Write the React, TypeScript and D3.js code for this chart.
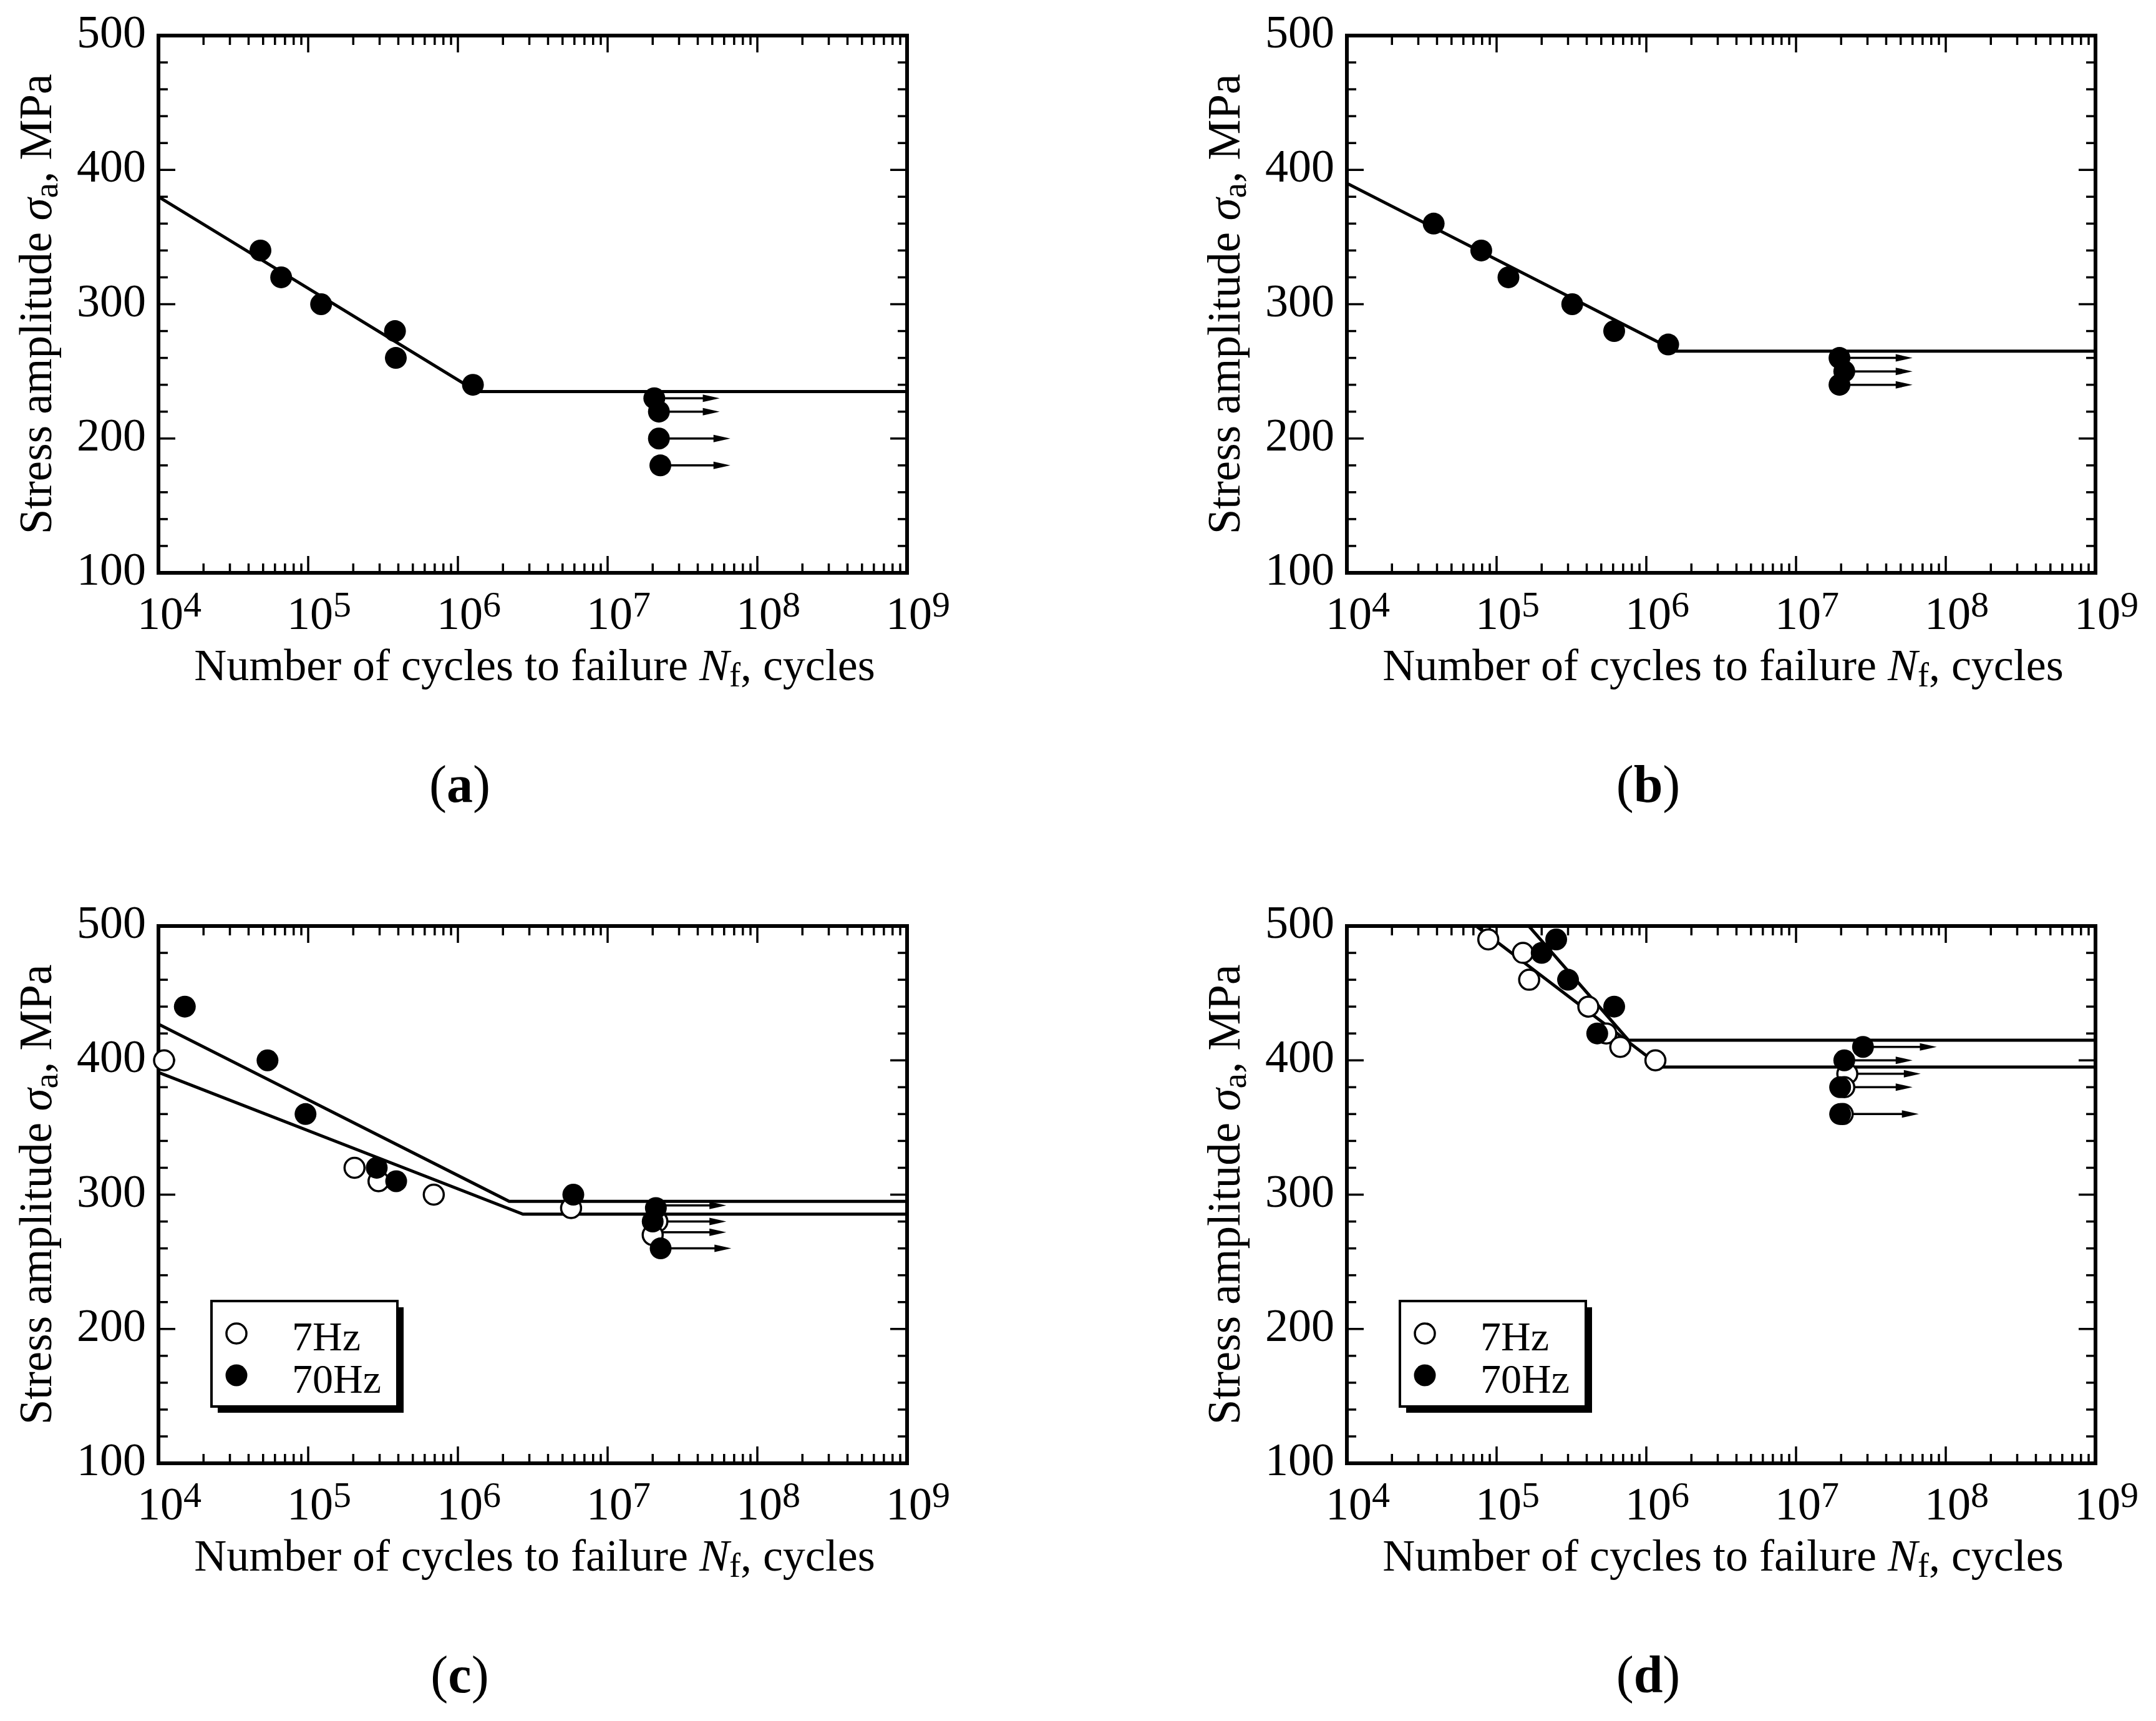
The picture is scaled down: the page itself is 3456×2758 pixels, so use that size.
import * as d3 from "d3";

type Pt = [number, number];
type Arrow = [number, number, number];

// axis ticks
const xDecades = [4, 5, 6, 7, 8, 9];
const yTickValues = [100, 200, 300, 400, 500];

// (a)
const aFilled: Pt[] = [
  [4.8e4, 340], [6.6e4, 320], [1.22e5, 300], [3.8e5, 280], [3.85e5, 260], [1.26e6, 240],
  [2.05e7, 230], [2.2e7, 220], [2.2e7, 200], [2.25e7, 180],
];
const aLine: Pt[] = [[1e4, 380], [1.34e6, 235], [1e9, 235]];
const aArrows: Arrow[] = [[2.05e7, 230, 5.6e7], [2.2e7, 220, 5.6e7], [2.2e7, 200, 6.6e7], [2.25e7, 180, 6.6e7]];

// (b)
const bFilled: Pt[] = [
  [3.8e4, 360], [7.9e4, 340], [1.2e5, 320], [3.2e5, 300], [6.1e5, 280], [1.4e6, 270],
  [1.95e7, 260], [2.1e7, 250], [1.95e7, 240],
];
const bLine: Pt[] = [[1e4, 390], [1.58e6, 265], [1e9, 265]];
const bArrows: Arrow[] = [[1.95e7, 260, 6e7], [2.1e7, 250, 6e7], [1.95e7, 240, 6e7]];

// (c)
const cOpen: Pt[] = [
  [1.09e4, 400], [2.04e5, 320], [2.95e5, 310], [6.9e5, 300], [5.7e6, 290], [2.15e7, 280], [2.0e7, 270],
];
const cFilled: Pt[] = [
  [1.5e4, 440], [5.35e4, 400], [9.6e4, 360], [2.87e5, 320], [3.87e5, 310], [5.9e6, 300],
  [2.1e7, 290], [2.0e7, 280], [2.26e7, 260],
];
const cLine70: Pt[] = [[1e4, 427], [2.2e6, 295], [1e9, 295]];
const cLine7: Pt[] = [[1e4, 391], [2.72e6, 285.5], [1e9, 285.5]];
const cArrows: Arrow[] = [[2.1e7, 292, 6.2e7], [2.0e7, 280, 6.2e7], [2.0e7, 272, 6.2e7], [2.26e7, 260, 6.7e7]];

// (d)
const dOpen: Pt[] = [
  [8.8e4, 490], [1.5e5, 480], [1.65e5, 460], [4.1e5, 440], [5.4e5, 420], [6.7e5, 410], [1.15e6, 400],
  [2.2e7, 390], [2.1e7, 380], [2.05e7, 360],
];
const dFilled: Pt[] = [
  [2.0e5, 480], [2.5e5, 490], [3.0e5, 460], [6.1e5, 440], [4.7e5, 420],
  [2.8e7, 410], [2.1e7, 400], [1.97e7, 380], [1.97e7, 360],
];
const dLine70: Pt[] = [[1.64e5, 500], [7.6e5, 415], [1e9, 415]];
const dLine7: Pt[] = [[7.3e4, 500], [1.26e6, 395], [1e9, 395]];
const dArrows: Arrow[] = [[2.8e7, 410, 8.7e7], [2.1e7, 400, 6.0e7], [2.2e7, 390, 6.8e7], [2.0e7, 380, 6.0e7], [2.0e7, 360, 6.6e7]];

const legendLabels = ["7Hz", "70Hz"];

const W = 1200;
const H = 861;
const FONT = "'Liberation Serif', 'Times New Roman', serif";

interface PanelProps {
  id: string;
  ox: number;
  oy: number;
  label: string;
  filled: Pt[];
  open?: Pt[];
  lines: Pt[][];
  arrows: Arrow[];
  legend?: boolean;
}

function Panel({ id, ox, oy, label, filled, open = [], lines, arrows, legend }: PanelProps) {
  const x = d3.scaleLog().domain([1e4, 1e9]).range([0, W]);
  const y = d3.scaleLinear().domain([100, 500]).range([H, 0]);
  const line = d3
    .line<Pt>()
    .x((d) => x(d[0]))
    .y((d) => y(d[1]));

  const minorX: number[] = [];
  xDecades.slice(0, -1).forEach((e) => {
    for (let m = 2; m <= 9; m++) minorX.push(m * 10 ** e);
  });
  const yAll = d3.range(100, 501, 20);

  return (
    <g transform={`translate(${ox},${oy})`}>
      <defs>
        <clipPath id={`clip-${id}`}>
          <rect x={0} y={0} width={W} height={H} />
        </clipPath>
      </defs>

      {/* ticks, all four sides pointing inward */}
      <g stroke="#000" strokeWidth={3.5}>
        {minorX.map((v) => (
          <g key={`mx${v}`}>
            <line x1={x(v)} x2={x(v)} y1={H} y2={H - 15} />
            <line x1={x(v)} x2={x(v)} y1={0} y2={15} />
          </g>
        ))}
        {xDecades.map((e) => (
          <g key={`Mx${e}`}>
            <line x1={x(10 ** e)} x2={x(10 ** e)} y1={H} y2={H - 27} />
            <line x1={x(10 ** e)} x2={x(10 ** e)} y1={0} y2={27} />
          </g>
        ))}
        {yAll.map((v) => {
          const len = v % 100 === 0 ? 27 : 15;
          return (
            <g key={`y${v}`}>
              <line x1={0} x2={len} y1={y(v)} y2={y(v)} />
              <line x1={W} x2={W - len} y1={y(v)} y2={y(v)} />
            </g>
          );
        })}
      </g>

      {/* fitted lines */}
      <g clipPath={`url(#clip-${id})`}>
        {lines.map((l, i) => (
          <path key={i} d={line(l) ?? ""} fill="none" stroke="#000" strokeWidth={5} />
        ))}
      </g>

      <rect x={0} y={0} width={W} height={H} fill="none" stroke="#000" strokeWidth={6} />

      {/* run-out arrows */}
      {arrows.map(([n0, s, n1], i) => {
        const x0 = x(n0);
        const x1 = x(n1);
        const yy = y(s);
        return (
          <g key={`ar${i}`}>
            <line x1={x0} x2={x1 - 20} y1={yy} y2={yy} stroke="#000" strokeWidth={3.5} />
            <polygon points={`${x1},${yy} ${x1 - 27},${yy - 6} ${x1 - 27},${yy + 6}`} fill="#000" />
          </g>
        );
      })}

      {open.map(([n, s], i) => (
        <circle key={`o${i}`} cx={x(n)} cy={y(s)} r={16} fill="#fff" stroke="#000" strokeWidth={3.5} />
      ))}
      {filled.map(([n, s], i) => (
        <circle key={`f${i}`} cx={x(n)} cy={y(s)} r={17.5} fill="#000" />
      ))}

      {/* tick labels */}
      <g fontFamily={FONT} fill="#000">
        {yTickValues.map((v) => (
          <text key={`yl${v}`} x={-20} y={y(v) + 19} fontSize={74} textAnchor="end">
            {v}
          </text>
        ))}
        {xDecades.map((e) => (
          <g key={`xl${e}`}>
            <text x={x(10 ** e) + 3} y={H + 90} fontSize={74} textAnchor="middle">
              10
            </text>
            <text x={x(10 ** e) + 40} y={H + 70} fontSize={58}>
              {e}
            </text>
          </g>
        ))}

        <text transform={`translate(-172,${H / 2}) rotate(-90)`} fontSize={73} textAnchor="middle">
          Stress amplitude <tspan fontStyle="italic">σ</tspan>
          <tspan fontSize={55} dy={10}>a</tspan>
          <tspan dy={-10}>, MPa</tspan>
        </text>

        <text x={603} y={H + 172} fontSize={72} textAnchor="middle">
          Number of cycles to failure <tspan fontStyle="italic">N</tspan>
          <tspan fontSize={54} dy={10}>f</tspan>
          <tspan dy={-10}>, cycles</tspan>
        </text>

        <text x={483} y={1228} fontSize={84} textAnchor="middle">
          (<tspan fontWeight="bold">{label}</tspan>)
        </text>
      </g>

      {legend && (
        <g transform="translate(85,601)">
          <rect x={10} y={10} width={298} height={169} fill="#000" />
          <rect x={0} y={0} width={298} height={169} fill="#fff" stroke="#000" strokeWidth={4} />
          <circle cx={40} cy={52} r={16} fill="#fff" stroke="#000" strokeWidth={3.5} />
          <circle cx={40} cy={119} r={17.5} fill="#000" />
          <text x={129} y={79} fontSize={66} fontFamily={FONT}>
            {legendLabels[0]}
          </text>
          <text x={129} y={147} fontSize={66} fontFamily={FONT}>
            {legendLabels[1]}
          </text>
        </g>
      )}
    </g>
  );
}

export default function App() {
  return (
    <svg
      width={3456}
      height={2758}
      style={{ position: "absolute", left: 0, top: 0, display: "block" }}
    >
      <rect width={3456} height={2758} fill="#fff" />
      <Panel id="a" ox={254} oy={57} label="a" filled={aFilled} lines={[aLine]} arrows={aArrows} />
      <Panel id="b" ox={2159} oy={57} label="b" filled={bFilled} lines={[bLine]} arrows={bArrows} />
      <Panel
        id="c"
        ox={254}
        oy={1484}
        label="c"
        filled={cFilled}
        open={cOpen}
        lines={[cLine70, cLine7]}
        arrows={cArrows}
        legend
      />
      <Panel
        id="d"
        ox={2159}
        oy={1484}
        label="d"
        filled={dFilled}
        open={dOpen}
        lines={[dLine70, dLine7]}
        arrows={dArrows}
        legend
      />
    </svg>
  );
}
